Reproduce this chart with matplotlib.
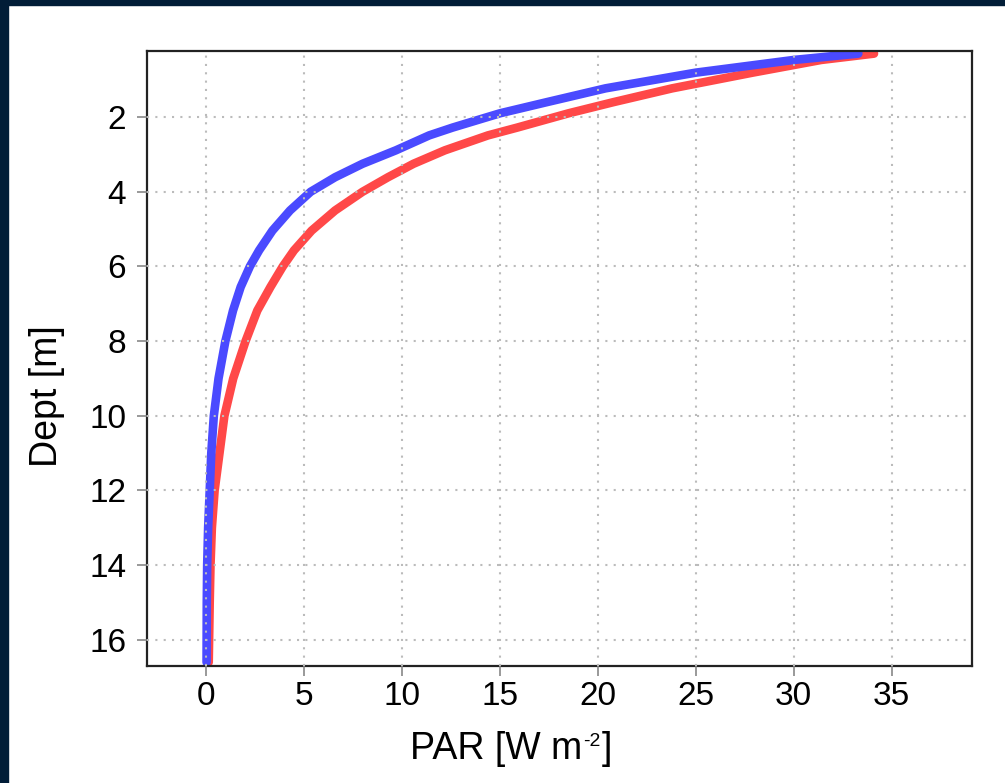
import matplotlib
matplotlib.use("Agg")
import matplotlib.pyplot as plt
from matplotlib.patches import Rectangle

# Data
depth = [0.3, 0.47, 0.81, 1.23, 1.6, 1.9, 2.28, 2.49, 2.89, 3.25, 3.61, 4.0,
         4.5, 5.04, 5.57, 6.0, 6.55, 7.18, 8.0, 9.0, 10.0, 11.0, 12.0, 13.0,
         14.0, 15.0, 16.6]
par_blue = [33.3, 30.0, 25.0, 20.4, 17.4, 15.0, 12.6, 11.4, 9.7, 8.0, 6.6, 5.35,
            4.3, 3.4, 2.72, 2.25, 1.78, 1.39, 1.0, 0.65, 0.41, 0.28, 0.2, 0.12,
            0.07, 0.05, 0.04]
par_red = [34.1, 31.4, 27.9, 23.8, 20.8, 18.5, 15.9, 14.4, 12.2, 10.6, 9.3, 8.0,
           6.6, 5.4, 4.5, 3.93, 3.3, 2.63, 2.03, 1.4, 0.95, 0.7, 0.45, 0.31,
           0.24, 0.2, 0.15]
xticks = [0, 5, 10, 15, 20, 25, 30, 35]
yticks = [2, 4, 6, 8, 10, 12, 14, 16]

plt.rcParams['font.family'] = ['Liberation Sans', 'DejaVu Sans']

W, H = 1005, 783
fig = plt.figure(figsize=(W / 100, H / 100), dpi=100)
fig.patch.set_facecolor('white')
# navy frame at top and left
fig.patches.append(Rectangle((0, 1 - 5 / H), 1, 5 / H, transform=fig.transFigure,
                             color='#011d37', zorder=0))
fig.patches.append(Rectangle((0, 0), 8 / W, 1, transform=fig.transFigure,
                             color='#011d37', zorder=0))

ax = fig.add_axes([147 / W, 1 - 666 / H, (972 - 147) / W, (666 - 51) / H])

ax.plot(par_red, depth, color='#ff4848', lw=6.2, solid_capstyle='round',
        solid_joinstyle='round', zorder=2)
ax.plot(par_blue, depth, color='#4a4aff', lw=6.2, solid_capstyle='round',
        solid_joinstyle='round', zorder=2)

ax.set_xlim(-3, 39.1)
ax.set_ylim(16.7, 0.23)
ax.set_xticks(xticks)
ax.set_yticks(yticks)

ax.set_axisbelow(False)
ax.grid(True, color='#bbbbbb', linestyle=(0, (1, 3)), lw=1.5)

for s in ax.spines.values():
    s.set_linewidth(1.6)
    s.set_color('#222222')

ax.tick_params(axis='both', direction='out', length=7, width=1.2, color='#888888',
               labelsize=24)
ax.tick_params(axis='x', pad=4)
ax.tick_params(axis='y', pad=8)

# axis titles
fig.text(47 / W, 1 - 396 / H, 'Dept [m]', rotation=90, fontsize=27,
         ha='center', va='center')
y_x = 1 - 749 / H
t1 = fig.text(410 / W, y_x, 'PAR [W m', fontsize=27, ha='left', va='center')
fig.canvas.draw()
r = fig.canvas.get_renderer()
bb = t1.get_window_extent(r)
t2 = fig.text((bb.x1 + 1) / W, y_x + 8 / H, '-2', fontsize=14, ha='left', va='center')
bb2 = t2.get_window_extent(r)
fig.text((bb2.x1 + 1) / W, y_x, ']', fontsize=27, ha='left', va='center')

fig.savefig('out.png', dpi=100)
